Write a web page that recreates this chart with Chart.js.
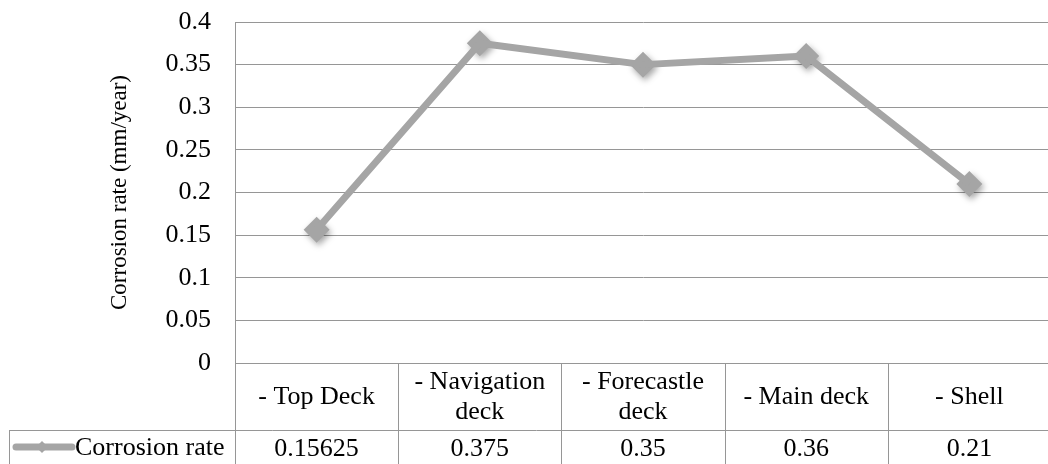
<!DOCTYPE html>
<html>
<head>
<meta charset="utf-8">
<script src="https://cdn.jsdelivr.net/npm/chart.js@4/dist/chart.umd.min.js"></script>
<style>
  html, body { margin: 0; padding: 0; background: #fff; }
  #wrap { width: 1048px; height: 464px; overflow: hidden; position: relative; }
  canvas { display: block; }
</style>
</head>
<body>
<div id="wrap"><canvas id="c" width="1064" height="464"></canvas></div>
<script>
// Sampling locations on the ship
const categories = ['- Top Deck', '- Navigation deck', '- Forecastle deck', '- Main deck', '- Shell'];
// Measured corrosion rate, mm/year
const corrosionRate = [0.15625, 0.375, 0.35, 0.36, 0.21];
const valueLabels = ['0.15625', '0.375', '0.35', '0.36', '0.21'];
const seriesName = 'Corrosion rate';
const yTickLabels = ['0', '0.05', '0.1', '0.15', '0.2', '0.25', '0.3', '0.35', '0.4'];
const yTitle = 'Corrosion rate (mm/year)';

const FONT = "'Liberation Serif', 'Times New Roman', serif";
const GRID = '#969696';
const SERIES = '#a5a5a5';
const TEXT_SIZE = 26;

// Soft drop shadow under the diamond markers
const markerShadow = {
  id: 'markerShadow',
  beforeDatasetDraw(chart, args) {
    if (args.index !== 1) return;
    const ctx = chart.ctx;
    ctx.save();
    ctx.shadowColor = 'rgba(0,0,0,0.35)';
    ctx.shadowBlur = 6;
    ctx.shadowOffsetX = 2;
    ctx.shadowOffsetY = 3;
  },
  afterDatasetDraw(chart, args) {
    if (args.index !== 1) return;
    chart.ctx.restore();
  }
};

// Data table under the plot: category row, then the value row with its legend key
const dataTable = {
  id: 'dataTable',
  afterDraw(chart) {
    const ctx = chart.ctx;
    const xs = chart.scales.x;
    const area = chart.chartArea;
    const n = categories.length;
    const colW = (area.right - area.left) / n;
    const top = area.bottom;
    const rowY = top + 67;
    const bottom = chart.height + 2;
    const keyLeft = 9;

    ctx.save();
    ctx.strokeStyle = GRID;
    ctx.lineWidth = 1;
    ctx.beginPath();
    ctx.moveTo(area.left, top + 0.5); ctx.lineTo(chart.width, top + 0.5);
    ctx.moveTo(keyLeft, rowY + 0.5); ctx.lineTo(chart.width, rowY + 0.5);
    for (let i = 0; i <= n; i++) {
      const x = Math.round(area.left + i * colW) + 0.5;
      ctx.moveTo(x, top); ctx.lineTo(x, bottom);
    }
    ctx.moveTo(keyLeft + 0.5, rowY); ctx.lineTo(keyLeft + 0.5, bottom);
    ctx.stroke();

    ctx.fillStyle = '#000';
    ctx.font = TEXT_SIZE + 'px ' + FONT;
    ctx.textAlign = 'center';
    ctx.textBaseline = 'middle';
    const lineH = 30;
    categories.forEach((label, i) => {
      const cx = xs.getPixelForValue(i);
      const words = label.split(' ');
      const lines = [];
      let cur = '';
      words.forEach(w => {
        const test = cur ? cur + ' ' + w : w;
        if (ctx.measureText(test).width > colW - 12 && cur) { lines.push(cur); cur = w; }
        else cur = test;
      });
      if (cur) lines.push(cur);
      const midY = (top + rowY) / 2 + 1;
      lines.forEach((ln, k) => {
        ctx.fillText(ln, cx, midY + (k - (lines.length - 1) / 2) * lineH);
      });
      ctx.fillText(valueLabels[i], cx, rowY + 19);
    });

    // legend key: line with a diamond marker
    const ky = rowY + 17;
    ctx.strokeStyle = SERIES;
    ctx.lineWidth = 7;
    ctx.lineCap = 'round';
    ctx.beginPath();
    ctx.moveTo(16, ky); ctx.lineTo(72, ky);
    ctx.stroke();
    ctx.fillStyle = SERIES;
    ctx.beginPath();
    ctx.moveTo(42, ky - 6); ctx.lineTo(48, ky); ctx.lineTo(42, ky + 6); ctx.lineTo(36, ky);
    ctx.closePath();
    ctx.fill();
    ctx.fillStyle = '#000';
    ctx.textAlign = 'left';
    ctx.fillText(seriesName, 75, ky + 1);
    ctx.restore();
  }
};

new Chart(document.getElementById('c'), {
  type: 'line',
  data: {
    labels: categories,
    datasets: [
      {
        label: seriesName,
        data: corrosionRate,
        borderColor: SERIES,
        borderWidth: 7,
        pointRadius: 0,
        tension: 0,
        borderJoinStyle: 'round'
      },
      {
        label: seriesName,
        data: corrosionRate,
        showLine: false,
        pointStyle: 'rectRot',
        pointRadius: 13,
        pointBackgroundColor: SERIES,
        pointBorderColor: SERIES,
        pointBorderWidth: 0
      }
    ]
  },
  options: {
    responsive: false,
    animation: false,
    events: [],
    layout: { padding: { top: 22, right: 8, bottom: 101, left: 0 } },
    plugins: { legend: { display: false }, tooltip: { enabled: false } },
    scales: {
      x: { display: false, offset: true },
      y: {
        min: 0,
        max: 0.4,
        ticks: {
          stepSize: 0.05,
          padding: 24,
          color: '#000',
          font: { family: FONT, size: TEXT_SIZE },
          callback: (v, i) => yTickLabels[i]
        },
        grid: { color: GRID, lineWidth: 1, drawTicks: false },
        border: { display: true, color: GRID, width: 1 },
        title: {
          display: true,
          text: yTitle,
          color: '#000',
          font: { family: FONT, size: 23 },
          padding: { top: 106, bottom: 0 }
        },
        afterFit(scale) {
          scale.width = 235;
          scale.paddingTop = 0;
          scale.paddingBottom = 0;
        }
      }
    }
  },
  plugins: [markerShadow, dataTable]
});
</script>
</body>
</html>
